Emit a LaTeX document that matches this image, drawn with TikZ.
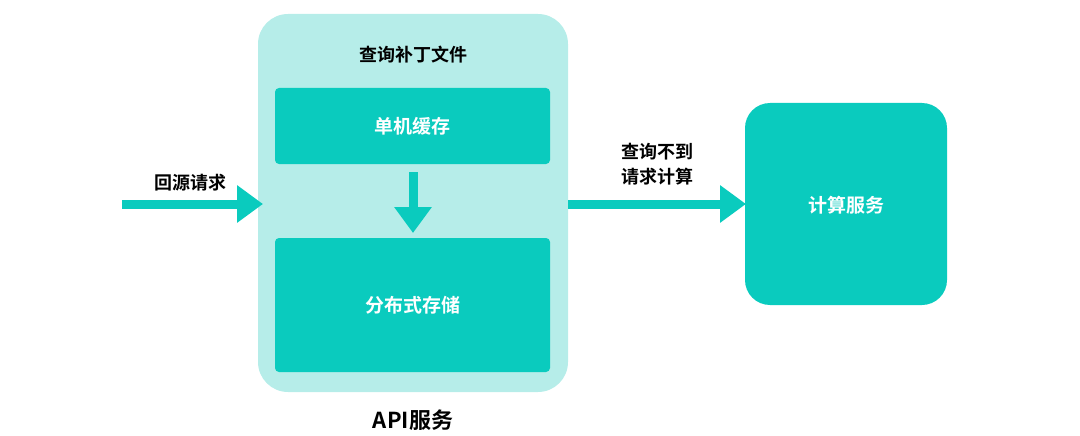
\documentclass[tikz,border=0pt]{standalone}
\usepackage{fontspec}
\setmainfont{Noto Sans CJK SC}[BoldFont={* Bold}]
\usetikzlibrary{arrows.meta}
\definecolor{teal}{HTML}{0ACBBE}
\definecolor{lt}{HTML}{B6EDE9}
\begin{document}
\begin{tikzpicture}[x=1pt,y=-1pt,
  box/.style={fill=teal,draw=none,rounded corners=4pt},
  wt/.style={text=white,font=\bfseries\fontsize{19}{22}\selectfont},
  bt/.style={text=black,font=\bfseries\fontsize{18}{25}\selectfont,align=center},
  fat/.style={draw=teal,line width=9pt,-{Triangle[length=26pt,width=36pt]}}]
\useasboundingbox (0,0) rectangle (1080,436);
\fill[lt,rounded corners=30pt] (258,14) rectangle (568,392);
\node[bt] (t) at (413,55) {查询补丁文件};
\path[box] (275,88) rectangle (550,164);
\node[wt] (c) at (412.5,126) {单机缓存};
\path[box] (275,238) rectangle (550,372);
\node[wt] (d) at (412.5,305) {分布式存储};
\path[box,rounded corners=25pt] (745,103) rectangle (947,305);
\node[wt] (s) at (846,205) {计算服务};
\node[font=\bfseries\fontsize{22}{26}\selectfont] (api) at (413,420) {API服务};
\coordinate (a1) at (413,172); \coordinate (a2) at (413,233);
\draw[fat] (a1) -- (a2);
\coordinate (l1) at (122,204); \coordinate (l2) at (263,204);
\draw[fat] (l1) -- (l2);
\node[bt] (ll) at (190,183) {回源请求};
\coordinate (r1) at (568,204); \coordinate (r2) at (746,204);
\draw[fat] (r1) -- (r2);
\node[bt] (rl) at (657,164) {查询不到\\请求计算};
\end{tikzpicture}
\end{document}
